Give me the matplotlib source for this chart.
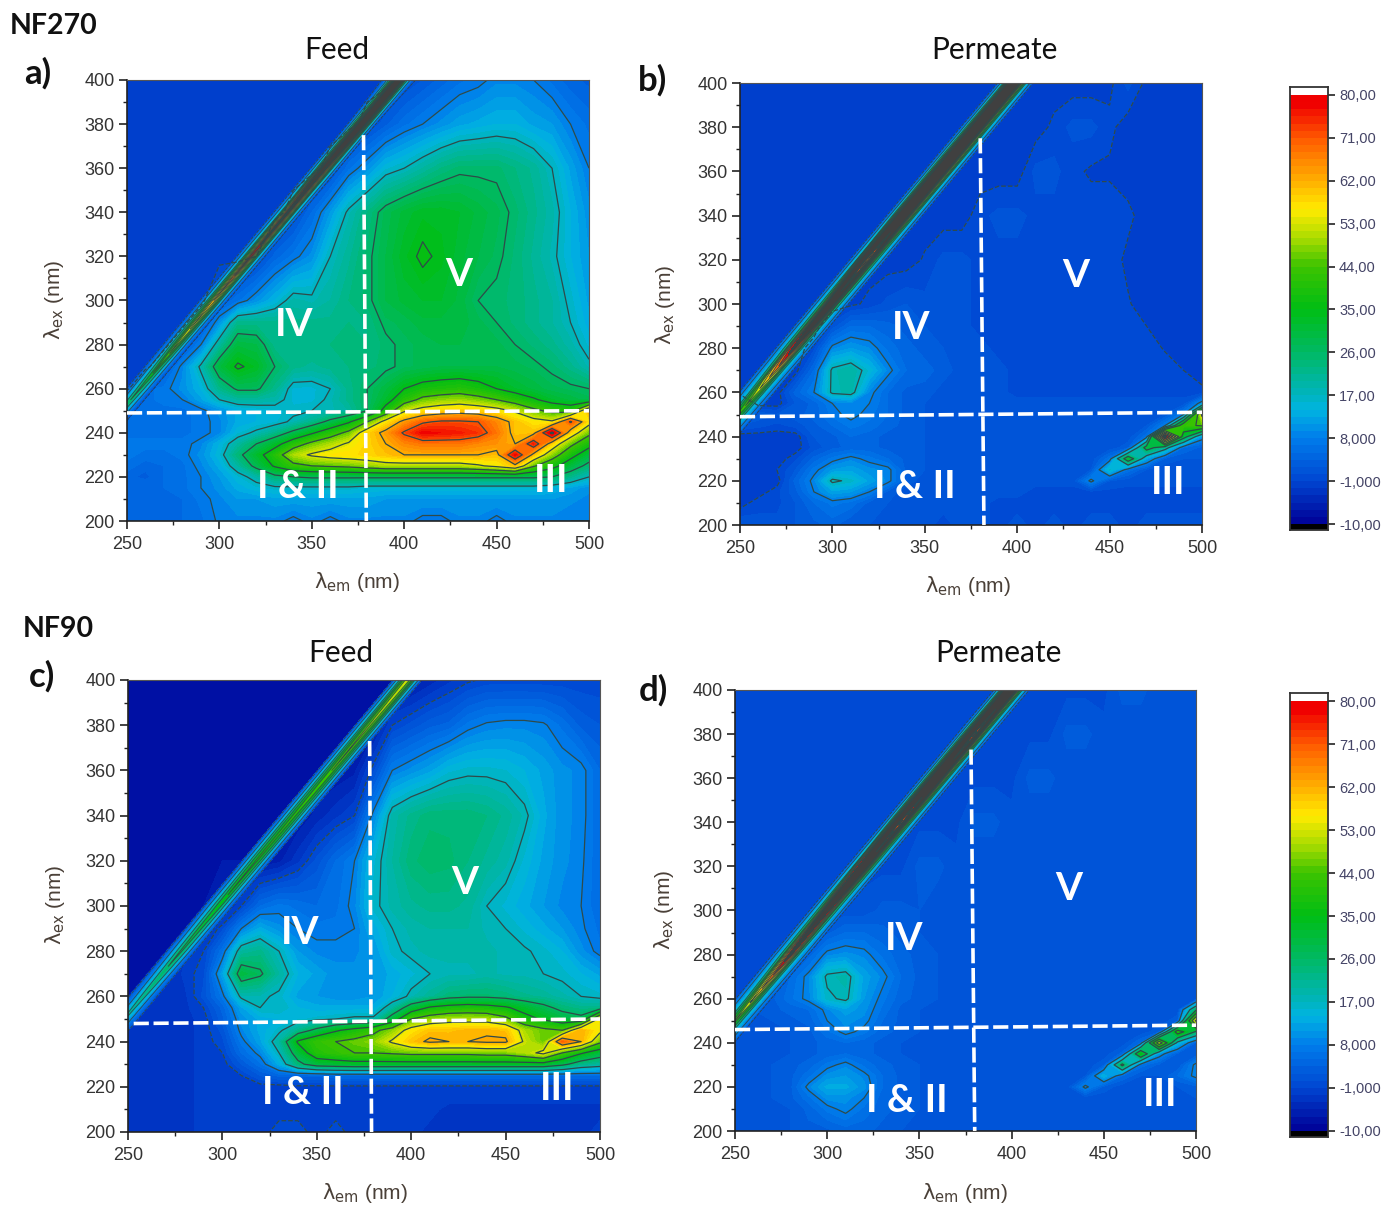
import numpy as np
import matplotlib
matplotlib.use("Agg")
import matplotlib.pyplot as plt
from matplotlib.colors import LinearSegmentedColormap, ListedColormap, BoundaryNorm

W, H = 1386, 1208
em = [250,260,270,280,290,300,310,320,330,340,350,360,370,380,390,400,410,420,430,440,450,460,470,480,490,500]
ex = [200,210,215,220,225,230,235,240,245,250,255,260,270,280,290,300,320,340,360,380,400]

feed_nf270 = [
[5,5,5,5,6, 8.5,9,9,9,7, 9,7,9,9,9, 9,7,7,9,9, 7,9,9,9,8, 8],
[5,5,5,5,7, 9,11,11,12,12, 12,12,12,12,11, 11,11,11,11,11, 11,11,11,11,10, 9],
[5,5,5,6,8, 10,13,15,16,16, 16,16,16,15,15, 15,15,15,15,15, 15,15,15,14,12, 10],
[4,3,5,6,8, 11,15,19,24,26, 27,27,27,27,27, 27,27,27,27,27, 27,27,27,26,22, 17],
[6,4,5,6,9, 13,20,28,36,42, 44,45,46,48,50, 50,50,50,50,52, 55,60,45,38,30, 24],
[7,6,6,7,10, 15,24,32,40,50, 54,56,57,58,60, 62,62,62,62,62, 60,78,60,48,38, 30],
[7,7,7,7,9, 14,20,26,32,40, 46,50,54,58,62, 66,68,68,68,66, 65,62,76,58,46, 38],
[6,6,6,6,7, 9,15,18,22,28, 34,40,46,58,64, 72,78,77,76,74, 68,60,60,82,58, 46],
[6,6,6,6,7, 9,13,14,15,18, 22,28,34,44,56, 64,70,72,72,71, 66,60,56,54,72, 56],
[6,6,6,6,7, 10,13,14,15,16, 17,18,20,26,38, 52,56,58,59,58, 56,52,46,42,40, 62],
[6,6,7,8,12, 17,20,20,19,15, 15,18,22,26,32, 40,46,48,49,47, 44,40,36,32,30, 28],
[-2,6,7,10,14, 22,27,27,22,15, 15,17,22,26,30, 35,38,39,40,38, 35,32,30,28,27, 26],
[-2,-2,2,9,18, 30,36,33,26,22, 21,22,23,24,25, 27,28,29,29,29, 29,28,27,25,22, 18],
[-2,-2,-2,2,8, 20,30,29,22,23, 23,23,24,23,25, 27,28,29,29,29, 28,26,24,22,19, 15],
[-2,-2,-2,-2,2, 10,22,22,22,22, 22,22,23,23,27, 28,30,30,30,28, 26,24,22,20,17, 13],
[-2,-2,-2,-2,-2, 3,6,10,14,19, 18,20,23,25,29, 31,32,32,30,26, 25,24,22,20,16, 12],
[-2,-2,-2,-2,-2, -2,-2,-1,4,7, 10,17,21,25,29, 33,36,34,31,29, 27,24,21,18,14, 11],
[-2,-2,-2,-2,-2, -2,-2,-2,-2,0, 5,11,18,23,28, 31,33,33,32,30, 28,25,22,19,14, 10],
[-2,-2,-2,-2,-2, -2,-2,-2,-2,-2, -2,0,6,10,15, 17,20,23,25,25, 25,23,21,17,12, 8],
[-2,-2,-2,-2,-2, -2,-2,-2,-2,-2, -2,-2,-2,0,3, 6,8,10,12,13, 14,14,12,11,8, 6],
[-2,-2,-2,-2,-2, -2,-2,-2,-2,-2, -2,-2,-2,-2,-2, 0,2,4,6,7, 9,9,8,6,4, 3],
]

perm_nf270 = [
[2,1,1,2,3, 4,2,2,2,2, 1,0,1,1,0, 1,0,1,0,1, 1,0,1,1,1, 1],
[-2,0,0,2,5, 7,6,3,2,1, 1,1,1,1,0, 0,0,0,0,0, 0,0,0,0,0, 0],
[-2,-2,0,3,8, 12,11,8,3,1, 1,1,1,1,1, 1,0,0,0,0, 0,0,0,0,0, 0],
[-2,-2,-2,4,9, 18,16,12,9,3, 1,1,1,1,1, 1,1,1,1,9, 2,1,1,1,1, 1],
[-2,-2,-1,2,7, 11,12,10,9,3, 2,1,1,1,1, 1,1,1,1,2, 16,6,2,1,1, 2],
[-2,-2,-2,0,4, 7,9,7,5,3, 2,2,1,1,1, 1,1,1,1,1, 6,32,12,3,2, 2],
[-2,-2,-2,-2,1, 3,4,4,3,3, 2,2,2,2,2, 2,2,2,2,1, 1,3,30,20,5, 3],
[-2,-2,-2,-2,2, 3,5,4,3,3, 2,2,2,2,2, 2,2,2,2,1, 1,1,6,85,30, 10],
[2,1,0,1,3, 5,7,6,4,3, 2,2,1,1,1, 1,1,1,1,1, 1,1,2,8,42, 45],
[4,3,2,3,4, 7,9,7,5,3, 2,2,1,1,1, 1,1,1,1,1, 1,1,1,2,8, 55],
[3,-2,-2,2,4, 8,9,8,5,3, 2,1,1,1,1, 1,1,1,1,1, 1,1,1,1,1, 10],
[-2,-2,-2,4,8, 18,19,9,5,3, 3,1,1,1,1, 0,0,0,0,0, 0,0,0,0,0, -0.5],
[-2,-2,-2,-2,5, 18,20,15,9,5, 4,3,1,1,1, 0,0,0,0,0, 0,0,0,0,-1, -2],
[-2,-2,-2,-2,0, 9,11,9.5,6,4, 3,2,1,1,0, 0,0,0,0,0, 0,0,0,-1.2,-2, -2],
[-2,-2,-2,-2,-2, 1,5,5,4,3, 2,1,1,0,0, 0,0,0,0,0, 0,0,-1,-2,-2, -2],
[-2,-2,-2,-2,-2, -2,-1.5,-0.5,1,2, 1,1,1,0,0, 0,0,0,0,0, 0,-0.8,-2,-2,-2, -2],
[-2,-2,-2,-2,-2, -2,-2,-2,-2,-2, -0.75,1,1,0,0, 0,0,0,0,0, 0,-1.5,-2,-2,-2, -2],
[-2,-2,-2,-2,-2, -2,-2,-2,-2,-2, -2,-2,-2,0,1, 1,0,0,0,0, 0,-0.5,-2,-2,-2, -2],
[-2,-2,-2,-2,-2, -2,-2,-2,-2,-2, -2,-2,-2,-2,-2, -2,1,1,-0.5,-1.3, -1.3,-2,-2,-2,-2, -2],
[-2,-2,-2,-2,-2, -2,-2,-2,-2,-2, -2,-2,-2,-2,-2, -2,-2,-0.5,1,1, -0.5,-2,-2,-2,-2, -2],
[-2,-2,-2,-2,-2, -2,-2,-2,-2,-2, -2,-2,-2,-2,-2, -2,-2,-2,-2,-2, -1.5,1,-1.5,-2,-2, -2],
]

feed_nf90 = [
[-3,-3,-3,-3,-2, -2,-2,-2,0,0, -2,0,-2,-2,-2, -2,-3,-3,-3,-3, -3,-3,-3,-3,-3, -2],
[-3,-3,-3,-3,-2, -2,-2,-2,-2,-2, -2,-2,-2,-2,-2, -2,-2,-3,-3,-3, -3,-3,-3,-3,-3, -3],
[-3,-3,-3,-3,-2, -2,-2,-2,-2,-2, -2,-2,-2,-2,-2, -2,-2,-2,-2,-2, -2,-2,-2,-2,-2, -2],
[-3,-3,-3,-3,-2, -2,-2,-2,-2,-1.5, -1.5,-1.5,-1.5,-1.5,-1.5, -1.5,-1.5,-1.5,-1.5,-1.5, -1.5,-1.5,-1.5,-1.5,-1.5, -1.5],
[-3,-3,-3,-3,-2, -2,-1,2,4,4, 4,5,5,5,5, 5,5,5,5,5, 5,5,5,5,5, 5],
[-3,-3,-3,-3,-2, -2,2,6,13,24, 30,31,32,32,32, 32,32,32,32,32, 32,32,32,28,22, 20],
[-3,-3,-3,-3,-2, -1,5,9,17,30, 40,42,44,44,45, 46,46,46,46,47, 47,50,55,44,36, 30],
[-3,-3,-3,-3,-2, 0,7,12,20,36, 42,44,46,48,54, 60,63,62,62,63, 63,52,46,70,62, 46],
[-3,-3,-3,-3,-2, 1,9,13,16,22, 28,34,38,42,48, 56,60,60,61,61, 60,50,46,44,62, 55],
[-3,-3,-3,-3,-2, 3,10,13,14,15, 16,17,18,18,30, 44,48,50,50,50, 46,38,34,30,28, 56],
[-4,-3,-3,-3,-1, 4,12,17,17,14, 13,13,13,13,20, 30,36,38,39,38, 36,32,28,24,22, 22],
[-7,-3,-3,-3,1, 7,18,18,16,12, 11,10,10,11,14, 18,21,24,25,25, 24,22,21,19,17, 16],
[-7,-7,-5,-2,0, 12,30,27,20,14, 12,10,10,11,13, 15,17,18,18,19, 18,18,17,16,14, 12],
[-7,-7,-7,-3,-1, 6,20,22,17,11, 9,9,9,11,16, 18,19,19,19,19, 18,17.5,16,14,10, 7],
[-7,-7,-7,-7,-4, 0,8,13,10,8, 7,7,8,13,17, 19,20,20,20,18, 17,15,13,11,8.5, 6],
[-7,-7,-7,-7,-7, -6,-1,5,7,6, 5,6,9,16,19, 21,22,22,21,17, 15,13,11,9,8, 5],
[-7,-7,-7,-7,-7, -7,-7,-7,-6,-3, 1,5,8,15,20, 24,25.5,25,23,21, 19,15,12,10,8.5, 5],
[-7,-7,-7,-7,-7, -7,-7,-7,-7,-7, -5,-3,-1,9,19, 22,24,24,24,23, 21,18,13,10,9, 5],
[-7,-7,-7,-7,-7, -7,-7,-7,-7,-7, -7,-7,-6,0,8, 10,12,15,16,16, 15.5,14,12,10,9, 5],
[-7,-7,-7,-7,-7, -7,-7,-7,-7,-7, -7,-7,-7,-7,-1, 1,3,4,7,8.5, 9,9,8.5,6,3, 2],
[-7,-7,-7,-7,-7, -7,-7,-7,-7,-7, -7,-7,-7,-7,-7, -7,-5,-3,-1.5,-0.5, -0.5,-0.5,-0.5,-0.5,-0.5, -0.5],
]

perm_nf90 = [
[2,2,2,2,3, 3,4,4,3,2, 2,2,2,2,2, 2,2,2,2,2, 2,2,2,2,2, 2],
[2,2,2,2,4, 7,9,6,4,3, 2,2,2,2,2, 2,1,1,1,1, 1,1,1,1,1, 1],
[2,2,2,3,6, 10,10,8,4,3, 2,2,2,2,1, 1,1,1,1,1, 1,1,1,1,1, 2],
[2,2,2,3,9, 13,13,10,5,3, 2,2,2,2,1, 1,1,1,1,9, 3,1,1,1,2, 3],
[2,2,2,3,6, 10,11,9,5,3, 2,2,2,2,1, 1,1,1,1,2, 14,5,2,2,5, 9],
[2,2,2,3,4, 7,9,6,4,3, 2,2,2,2,1, 1,1,1,1,1, 3,28,6,3,2, 9],
[2,2,2,2,3, 4,5,4,3,2, 2,2,2,1,1, 1,1,1,1,1, 1,4,35,10,3, 2],
[2,2,2,2,3, 4,5,4,3,2, 2,2,2,1,1, 1,1,1,1,1, 1,1,5,50,15, 3],
[2,2,2,2,3, 6,9,7,4,3, 2,2,1,1,1, 1,1,1,1,1, 1,1,1,3,40, 25],
[2,2,2,3,4, 8,10,9,5,3, 2,2,1,1,1, 1,1,1,1,1, 1,1,1,1,3, 55],
[1,2,3,4,5, 9,12,10,6,3, 2,1,1,1,1, 1,1,1,1,1, 1,1,1,1,1, 25],
[0,1,3,6,9, 16,18,11,7,4, 3,2,1,1,1, 1,1,1,1,1, 1,1,1,1,1, 1],
[0,0,1,5,9, 18,19,12,9,5, 3,2,1,1,1, 1,1,1,1,1, 1,1,1,1,1, 1],
[0,0,0,0,4, 9,10,9,6,4, 3,2,1,1,1, 1,1,1,1,1, 1,1,1,1,1, 1],
[0,0,0,0,0, 3,5,5,4,3, 2,2,1,1,1, 1,1,1,1,1, 1,1,1,1,1, 1],
[0,0,0,0,0, 0,1,1,2.5,2.5, 2,1,1,1,1, 1,1,1,1,1, 1,1,1,1,1, 1],
[0,0,0,0,0, 0,0,0,0,0, 2.5,2.5,1,1,1, 1,1,1,1,1, 1,1,1,1,1, 1],
[0,0,0,0,0, 0,0,0,0,0, 0,0,0,2.5,2.5, 1,1,1,1,1, 1,1,1,1,1, 1],
[0,0,0,0,0, 0,0,0,0,0, 0,0,0,0,0, 0,2.5,2.5,1,1, 1,1,1,1,1, 1],
[0,0,0,0,0, 0,0,0,0,0, 0,0,0,0,0, 0,0,0,2.5,2.5, 1,1,1,1,1, 1],
[0,0,0,0,0, 0,0,0,0,0, 0,0,0,0,0, 0,0,0,0,0, 0,2.5,2.5,1,1, 1],
]

# Rayleigh scatter band: rows are excitation, columns the offset from the line em = ex
ridge_ex = [240,260,280,300,320,340,360,380,400,420]
ridge_off = [-10,-8,-6,-4,-2,0,2,4,6,8,10]
ridge_a = [
[-3,-3,3,7,12,20,12,7,3,-3,-3],
[-3,-3,4,9,16,28,18,9,4,-3,-3],
[-3,-3,5,11,26,48,26,10,5,-3,-3],
[-3,-3,6,14,34,62,38,13,6,-3,-3],
[-3,-3,7,15,42,78,42,15,7,-3,-3],
[-3,-3,7,16,52,86,52,16,7,-3,-3],
[-3,-3,8,20,78,92,58,18,8,-3,-3],
[-3,-3,8,24,86,95,84,20,8,-3,-3],
[-3,2,9,30,92,95,88,22,9,2,-3],
[-3,2,9,30,92,95,88,22,9,2,-3],
]
ridge_b = [
[-3,6,9,14,22,30,20,14,9,6,-3],
[-3,7,10,17,35,50,35,17,10,7,-3],
[-3,8,12,26,70,85,60,20,11,8,-3],
[-3,8,14,30,88,90,85,26,12,8,-3],
[-3,8,16,85,90,55,90,30,14,8,-3],
[-3,8,20,88,95,95,90,40,14,8,-3],
[-3,8,22,90,95,95,95,45,15,8,-3],
[-3,8,22,90,95,95,95,40,15,8,-3],
[-3,8,20,90,95,95,95,40,15,8,-3],
[-3,8,20,90,95,95,95,40,15,8,-3],
]
ridge_c = [
[-3,-3,3,7,11,16,11,7,3,-3,-3],
[-3,-3,4,8,14,22,14,8,4,-3,-3],
[-3,-3,5,10,18,28,20,10,5,-3,-3],
[-3,-3,6,12,22,34,22,12,5,-3,-3],
[-3,-3,6,13,26,38,26,12,6,-3,-3],
[-3,-3,6,14,28,40,28,14,6,-3,-3],
[-3,-3,6,15,30,44,30,15,6,-3,-3],
[-3,-3,7,16,34,48,34,16,6,-3,-3],
[-3,-3,7,18,38,52,38,17,7,-3,-3],
[-3,-3,7,18,38,52,38,17,7,-3,-3],
]
ridge_d = [
[-3,6,9,14,24,34,24,14,9,6,-3],
[-3,7,10,17,35,55,35,17,10,7,-3],
[-3,8,12,26,60,85,60,20,11,8,-3],
[-3,8,14,30,85,90,70,26,12,8,-3],
[-3,8,16,70,90,90,85,30,14,8,-3],
[-3,8,20,85,95,60,90,35,14,8,-3],
[-3,8,22,88,95,95,90,40,15,8,-3],
[-3,8,22,90,95,60,95,40,15,8,-3],
[-3,8,20,90,95,95,95,40,15,8,-3],
[-3,8,20,90,95,95,95,40,15,8,-3],
]

bar_ticks = [80,71,62,53,44,35,26,17,8,-1,-10]
bar_labels = ["80,00","71,00","62,00","53,00","44,00","35,00","26,00","17,00","8,000","-1,000","-10,00"]
anchor_vals = [-10,-1,8,14,17,26,35,44,50,56,62,71,78,80]
anchor_cols = ["#000096","#0046d2","#007deb","#00b4e1","#00b4be","#00b964","#00be14","#3cc300","#aadc00","#ffeb00","#ffaf00","#ff5a00","#f00000","#f00000"]

levels = np.arange(-10, 80.5, 1.5)
line_levels = np.arange(-1, 81, 9)
smooth = LinearSegmentedColormap.from_list(
    "eem", [((v + 10) / 90, c) for v, c in zip(anchor_vals, anchor_cols)], N=512)
band_cols = [smooth((0.5 * (a + b) + 10) / 90) for a, b in zip(levels[:-1], levels[1:])]
cmap = ListedColormap(band_cols)
cmap.set_over("#404040")
cmap.set_under("#000000")
norm = BoundaryNorm(levels, cmap.N)

fig = plt.figure(figsize=(W / 100, H / 100), dpi=100, facecolor="white")
TXT = ["Lato", "DejaVu Sans"]
TICK = ["Liberation Sans", "DejaVu Sans"]

def ptext(x, y, s, **kw):
    return fig.text(x / W, 1 - y / H, s, ha="center", va="center", **kw)

def make_axes(x0, y0, x1, y1):
    return fig.add_axes([x0 / W, 1 - y1 / H, (x1 - x0) / W, (y1 - y0) / H])

panels = [
    dict(box=(127, 80, 589, 521), z=feed_nf270, ridge=ridge_a, shift=-3,
         v=[(378, 375), (379.5, 200)], h=[(250, 249), (500, 250)],
         marks=[("V", 459, 275), ("IV", 294, 325), ("I & II", 298, 486), ("III", 551, 480)],
         title=("Feed", 337, 50), letter=("a)", 38, 73), xl=(357, 582), yl=(54, 300)),
    dict(box=(740, 83, 1202, 525), z=perm_nf270, ridge=ridge_b, shift=-1,
         v=[(380, 375), (382, 200)], h=[(250, 249), (500, 251)],
         marks=[("V", 1076, 276), ("IV", 911, 327), ("I & II", 915, 487), ("III", 1168, 482)],
         title=("Permeate", 994, 50), letter=("b)", 653, 80), xl=(968, 586), yl=(665, 305)),
    dict(box=(128, 680, 600, 1132), z=feed_nf90, ridge=ridge_c, shift=-2,
         v=[(378, 373), (379, 200)], h=[(253, 248), (500, 250)],
         marks=[("V", 465, 882), ("IV", 300, 933), ("I & II", 303, 1093), ("III", 557, 1088)],
         title=("Feed", 341, 653), letter=("c)", 42, 676), xl=(365, 1193), yl=(55, 905)),
    dict(box=(735, 690, 1196, 1131), z=perm_nf90, ridge=ridge_d, shift=0,
         v=[(378, 373), (380, 200)], h=[(250, 246), (500, 248)],
         marks=[("V", 1069, 889), ("IV", 904, 939), ("I & II", 907, 1100), ("III", 1160, 1095)],
         title=("Permeate", 998, 653), letter=("d)", 653, 690), xl=(965, 1193), yl=(664, 910)),
]

for p in panels:
    ax = make_axes(*p["box"])
    Z = np.array(p["z"], dtype=float)
    ax.contourf(em, ex, Z, levels=levels, cmap=cmap, norm=norm, extend="both")
    ax.contour(em, ex, Z, levels=line_levels, colors="#2f4a4a", linewidths=0.9)
    R = np.array(p["ridge"], dtype=float)
    rex = np.array(ridge_ex, dtype=float)
    X = rex[:, None] + np.array(ridge_off, dtype=float)[None, :] + p["shift"]
    Y = np.repeat(rex[:, None], len(ridge_off), axis=1)
    ax.contourf(X, Y, R, levels=levels[6:], cmap=cmap, norm=norm, extend="max")
    ax.contour(X, Y, R, levels=line_levels, colors="#2f4a4a", linewidths=0.6)
    for seg in (p["v"], p["h"]):
        ax.plot([seg[0][0], seg[1][0]], [seg[0][1], seg[1][1]], color="white", lw=2.6,
                dashes=(4.2, 1.3), zorder=5, solid_capstyle="butt")
    ax.set_xlim(250, 500)
    ax.set_ylim(200, 400)
    ax.set_xticks(range(250, 501, 50))
    ax.set_yticks(range(200, 401, 20))
    ax.set_xticks(range(275, 500, 50), minor=True)
    ax.set_yticks(range(210, 400, 20), minor=True)
    ax.tick_params(which="major", length=6, width=1.2, color="#222222", labelcolor="#333333")
    ax.tick_params(axis="x", which="major", pad=5)
    ax.tick_params(axis="y", which="major", pad=3)
    ax.tick_params(which="minor", length=3, width=1.0, color="#222222")
    for lab in ax.get_xticklabels() + ax.get_yticklabels():
        lab.set_family(TICK)
        lab.set_fontsize(13)
    for side in ("top", "right"):
        ax.spines[side].set_color("#555555")
        ax.spines[side].set_linewidth(0.8)
    for side in ("left", "bottom"):
        ax.spines[side].set_color("#222222")
        ax.spines[side].set_linewidth(1.2)
    for s, x, y in p["marks"]:
        ptext(x, y, s, color="white", family=TXT, fontsize=28, fontweight="bold", zorder=10)
    t, x, y = p["title"]
    ptext(x, y, t, color="#111111", family=TXT, fontsize=21.5)
    t, x, y = p["letter"]
    ptext(x, y, t, color="#111111", family=TXT, fontsize=25, fontweight="bold")
    x, y = p["xl"]
    ptext(x, y, r"$\mathrm{\lambda_{em}}$ (nm)", color="#4a4038", family=TICK, fontsize=15)
    x, y = p["yl"]
    ptext(x, y, r"$\mathrm{\lambda_{ex}}$ (nm)", color="#4a4038", family=TICK, fontsize=15, rotation=90)

ptext(54, 26, "NF270", color="#111111", family=TXT, fontsize=20.5, fontweight="bold")
ptext(58, 629, "NF90", color="#111111", family=TXT, fontsize=20.5, fontweight="bold")

for (x0, y0, x1, y1) in [(1290, 87, 1328, 530), (1290, 693, 1328, 1137)]:
    cax = make_axes(x0, y0, x1, y1)
    lo, hi = -10 - 6 / 4.77, 80 + 8 / 4.77
    edges = np.concatenate(([lo], levels, [hi]))
    vals = np.concatenate(([-11], 0.5 * (levels[:-1] + levels[1:]), [81]))[:, None]
    bar = cmap.copy()
    bar.set_over("white")
    cax.pcolormesh([0, 1], edges, vals, cmap=bar, norm=norm)
    cax.set_xlim(0, 1)
    cax.set_ylim(lo, hi)
    cax.set_xticks([])
    cax.yaxis.tick_right()
    cax.set_yticks(bar_ticks)
    cax.set_yticklabels(bar_labels, family=TICK, fontsize=10.5, color="#444466")
    cax.tick_params(axis="y", length=5, width=1.2, color="#222222", pad=3)
    for s in cax.spines.values():
        s.set_color("#333333")
        s.set_linewidth(1.3)

fig.savefig("out.png", dpi=100, facecolor="white")
